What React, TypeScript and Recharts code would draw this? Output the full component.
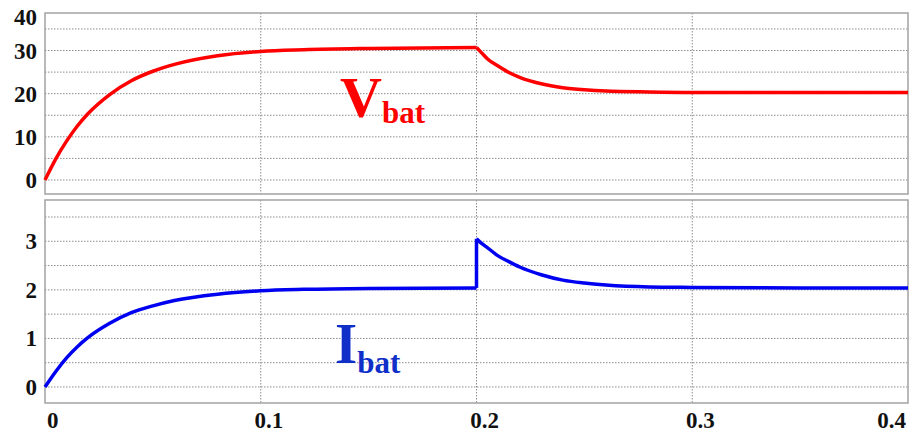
import React from 'react';
import { LineChart, Line, XAxis, YAxis, CartesianGrid, ReferenceArea } from 'recharts';

// charging phase, s
const riseTimes = [0, 0.005, 0.01, 0.015, 0.02, 0.03, 0.04, 0.05, 0.06, 0.08, 0.1, 0.12, 0.15, 0.2];
const vRise = [0, 4.9, 9.0, 12.5, 15.4, 19.8, 23.0, 25.2, 26.8, 28.8, 29.8, 30.2, 30.5, 30.7];
const iRise = [0, 0.32, 0.6, 0.83, 1.02, 1.31, 1.53, 1.67, 1.78, 1.91, 1.98, 2.01, 2.03, 2.04];

// after the load step at 0.2 s
const fallTimes = [0.2, 0.2025, 0.205, 0.21, 0.215, 0.22, 0.23, 0.24, 0.25, 0.26, 0.28, 0.3, 0.35, 0.4];
const vFall = [30.7, 29.4, 28.1, 26.4, 24.9, 23.8, 22.3, 21.4, 20.9, 20.6, 20.4, 20.3, 20.3, 20.3];
const iFall = [3.05, 2.95, 2.87, 2.7, 2.58, 2.47, 2.31, 2.2, 2.14, 2.1, 2.06, 2.05, 2.04, 2.04];

const xTicks = [0, 0.1, 0.2, 0.3, 0.4];
const xGrid = [0.1, 0.2, 0.3];
const vTicks = [0, 10, 20, 30, 40];
const vGrid = [0, 5, 10, 15, 20, 25, 30, 35];
const iTicks = [0, 1, 2, 3];
const iGrid = [0, 0.5, 1, 1.5, 2, 2.5, 3, 3.5];

const vDomain: [number, number] = [-3.25, 38.7];
const iDomain: [number, number] = [-0.33, 3.85];
const tDomain: [number, number] = [0, 0.4];

const riseData = riseTimes.map((t, k) => ({ t, v: vRise[k], i: iRise[k] }));
const fallData = fallTimes.map((t, k) => ({ t, v: vFall[k], i: iFall[k] }));
// vertical edge of the current step
const stepData = [
  { t: riseTimes[riseTimes.length - 1], i: iRise[iRise.length - 1] },
  { t: fallTimes[0], i: iFall[0] },
];

const SERIF = "'Liberation Serif', 'Times New Roman', Times, serif";
const GRID = '#8c8c8c';
const FRAME = '#a3a3a3';

const textStyle: React.CSSProperties = { fontFamily: SERIF, fontWeight: 700 };

const YTick = (props: any) => {
  const { x, y, payload } = props;
  // the top label sits just inside the frame
  const shift = payload.value === 40 ? 10 : 0;
  return (
    <text x={x} y={y + shift} dy="0.35em" textAnchor="end" fontSize={23} fill="#111" style={textStyle}>
      {payload.value}
    </text>
  );
};

const XTick = (props: any) => {
  const { x, y, payload, index } = props;
  const last = index === xTicks.length - 1;
  const first = index === 0;
  return (
    <text
      x={x + (first ? 2 : last ? -2 : 8)}
      y={y}
      dy="0.71em"
      textAnchor={first ? 'start' : last ? 'end' : 'middle'}
      fontSize={23}
      fill="#111"
      style={textStyle}
    >
      {payload.value}
    </text>
  );
};

const App = () => {
  return (
    <div style={{ position: 'absolute', left: 0, top: 0, width: 917, height: 438, background: '#fff' }}>
      <div style={{ position: 'absolute', left: 0, top: 0 }}>
        <LineChart width={917} height={198} margin={{ top: 13, right: 9, left: 0, bottom: 4 }}>
          <CartesianGrid stroke={GRID} strokeDasharray="1.5 1.5" horizontalValues={vGrid} verticalValues={xGrid} />
          <XAxis dataKey="t" type="number" domain={tDomain} allowDuplicatedCategory={false} hide />
          <YAxis
            type="number"
            domain={vDomain}
            ticks={vTicks}
            allowDataOverflow
            width={45}
            axisLine={false}
            tickLine={false}
            tickSize={0}
            tickMargin={8}
            interval={0}
            tick={<YTick />}
          />
          <ReferenceArea
            x1={tDomain[0]}
            x2={tDomain[1]}
            y1={vDomain[0]}
            y2={vDomain[1]}
            fill="none"
            stroke={FRAME}
            strokeWidth={1.5}
            ifOverflow="visible"
          />
          <Line data={riseData} dataKey="v" type="monotone" stroke="#ff0000" strokeWidth={3.5} dot={false} isAnimationActive={false} />
          <Line data={fallData} dataKey="v" type="monotone" stroke="#ff0000" strokeWidth={3.5} dot={false} isAnimationActive={false} />
        </LineChart>
      </div>
      <div style={{ position: 'absolute', left: 0, top: 198 }}>
        <LineChart width={917} height={240} margin={{ top: 2, right: 9, left: 0, bottom: 5 }}>
          <CartesianGrid stroke={GRID} strokeDasharray="1.5 1.5" horizontalValues={iGrid} verticalValues={xGrid} />
          <XAxis
            dataKey="t"
            type="number"
            domain={tDomain}
            ticks={xTicks}
            allowDuplicatedCategory={false}
            interval={0}
            height={30}
            axisLine={false}
            tickLine={false}
            tickSize={0}
            tickMargin={9}
            tick={<XTick />}
          />
          <YAxis
            type="number"
            domain={iDomain}
            ticks={iTicks}
            allowDataOverflow
            width={45}
            axisLine={false}
            tickLine={false}
            tickSize={0}
            tickMargin={8}
            interval={0}
            tick={<YTick />}
          />
          <ReferenceArea
            x1={tDomain[0]}
            x2={tDomain[1]}
            y1={iDomain[0]}
            y2={iDomain[1]}
            fill="none"
            stroke={FRAME}
            strokeWidth={1.5}
            ifOverflow="visible"
          />
          <Line data={riseData} dataKey="i" type="monotone" stroke="#0000f0" strokeWidth={3.5} dot={false} isAnimationActive={false} />
          <Line data={stepData} dataKey="i" type="linear" stroke="#0000f0" strokeWidth={3.5} dot={false} isAnimationActive={false} />
          <Line data={fallData} dataKey="i" type="monotone" stroke="#0000f0" strokeWidth={3.5} dot={false} isAnimationActive={false} />
        </LineChart>
      </div>
      <svg width={917} height={438} style={{ position: 'absolute', left: 0, top: 0, pointerEvents: 'none' }}>
        <text x={340} y={117} fontSize={58} fill="#ff0000" style={textStyle}>
          V
          <tspan fontSize={31} dy={6}>bat</tspan>
        </text>
        <text x={335} y={363} fontSize={57} fill="#0f2fc8" style={textStyle}>
          I
          <tspan fontSize={31} dy={10}>bat</tspan>
        </text>
      </svg>
    </div>
  );
};

export default App;
